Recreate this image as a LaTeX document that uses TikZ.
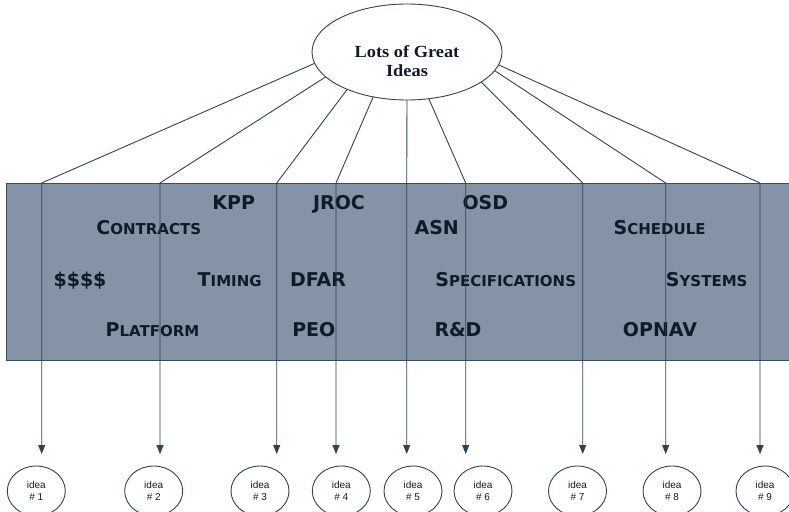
\documentclass[tikz,border=0pt]{standalone}
\usepackage{fontspec}
\setmainfont{Liberation Sans}
\newfontfamily\titlefont{Liberation Serif}[FakeStretch=1.08]
\newfontfamily\bandfont{DejaVu Sans}
\usetikzlibrary{arrows.meta,shapes.geometric}
\definecolor{bandfill}{HTML}{8493A6}
\definecolor{bandedge}{HTML}{3C4C5E}
\definecolor{linec}{HTML}{2F4257}
\definecolor{txtc}{HTML}{0F1A2A}
\newcommand\bigsm[2]{{\fontsize{19}{19}\selectfont #1}{\fontsize{15}{15}\selectfont #2}}
\tikzset{
  conn/.style={draw=linec, line width=0.9pt, -{Triangle[width=7pt,length=9pt]}},
  bandtxt/.style={anchor=base, inner sep=0pt, text=txtc, font=\bandfont\bfseries\fontsize{19}{19}\selectfont},
  ideabox/.style={ellipse, draw=linec, line width=0.9pt, minimum width=58pt, minimum height=50pt, inner sep=0pt, align=center, font=\fontsize{10}{12}\selectfont, text=txtc},
}
\begin{document}
\begin{tikzpicture}[x=1pt,y=-1pt]
\useasboundingbox (0,0) rectangle (789,511);
\clip (0,0) rectangle (789,511);
% band
\path[fill=bandfill, draw=bandedge, line width=0.8pt] (6,183) rectangle (800,360);
% top ellipse
\node[ellipse, draw=linec, line width=0.9pt, fill=white, minimum width=190pt, minimum height=96pt, inner sep=0pt, outer sep=0pt] (top) at (407,52) {};
\node[align=center, text=txtc, font=\titlefont\bfseries\fontsize{17}{19}\selectfont] (toptext) at (407,61) {Lots of Great\\Ideas};
% band words
\node[bandtxt] (kpp) at (233.7,209) {KPP};
\node[bandtxt] (jroc) at (339,209) {JROC};
\node[bandtxt] (osd) at (485.3,209) {OSD};
\node[bandtxt] (contracts) at (148.8,234) {\bigsm{C}{ONTRACTS}};
\node[bandtxt] (asn) at (436.7,234) {ASN};
\node[bandtxt] (schedule) at (659.7,234) {\bigsm{S}{CHEDULE}};
\node[bandtxt] (dollars) at (80,286) {\$\$\$\$};
\node[bandtxt] (timing) at (229.7,286) {\bigsm{T}{IMING}};
\node[bandtxt] (dfar) at (318,286) {DFAR};
\node[bandtxt] (specs) at (505.7,286) {\bigsm{S}{PECIFICATIONS}};
\node[bandtxt] (systems) at (706.7,286) {\bigsm{S}{YSTEMS}};
\node[bandtxt] (platform) at (152.5,336) {\bigsm{P}{LATFORM}};
\node[bandtxt] (peo) at (313.8,336) {PEO};
\node[bandtxt] (rd) at (458,336) {R\&D};
\node[bandtxt] (opnav) at (660,336) {OPNAV};
% bend points and arrow tips
\foreach \i/\x in {1/41.7,2/160,3/276.7,4/336,5/406.7,6/465.7,7/582.7,8/665.7,9/760}{
  \coordinate (b\i) at (\x,183);
  \coordinate (t\i) at (\x,454);
}
\draw[conn] (top.187.8) -- (b1) -- (t1);
\draw[conn] (top.197.4) -- (b2) -- (t2);
\draw[conn] (top.212.2) -- (b3) -- (t3);
\draw[conn] (top.233.4) -- (b4) -- (t4);
\draw[conn] (top.270) -- (b5) -- (t5);
\draw[conn] (top.295.9) -- (b6) -- (t6);
\draw[conn] (top.338.7) -- (b7) -- (t7);
\draw[conn] (top.348.2) -- (b8) -- (t8);
\draw[conn] (top.352) -- (b9) -- (t9);
% idea ellipses
\node[ideabox] (i1) at (36.3,491) {idea\\\# 1};
\node[ideabox] (i2) at (153.7,491) {idea\\\# 2};
\node[ideabox] (i3) at (260,491) {idea\\\# 3};
\node[ideabox] (i4) at (341.3,491) {idea\\\# 4};
\node[ideabox] (i5) at (413,491) {idea\\\# 5};
\node[ideabox] (i6) at (483,491) {idea\\\# 6};
\node[ideabox] (i7) at (577.5,491) {idea\\\# 7};
\node[ideabox] (i8) at (672,491) {idea\\\# 8};
\node[ideabox] (i9) at (765,491) {idea\\\# 9};
\end{tikzpicture}
\end{document}
